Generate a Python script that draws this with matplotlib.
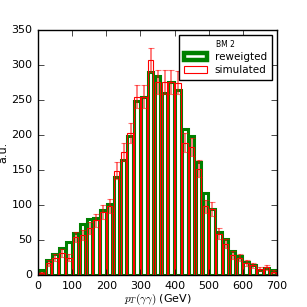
import numpy as np
import matplotlib
matplotlib.use("Agg")
import matplotlib.pyplot as plt

bin_edges = list(range(0, 720, 20))
reweighted = [7, 21, 30, 38, 47, 60, 73, 80, 82, 93, 102, 140, 165, 199, 248,
              255, 290, 284, 260, 276, 264, 208, 198, 162, 117, 94, 62, 52, 35,
              27, 18, 14, 7, 10, 7]
simulated = [3, 17, 25, 32, 25, 54, 57, 67, 78, 90, 99, 149, 176, 203, 255,
             255, 307, 276, 276, 276, 275, 189, 183, 152, 98, 94, 59, 45, 29,
             25, 17, 14, 8, 11, 5]

plt.style.use("classic")
plt.rcParams["font.size"] = 7

edges = np.array(bin_edges, dtype=float)
centers = 0.5 * (edges[:-1] + edges[1:])

fig = plt.figure(figsize=(3.07, 3.07), dpi=100)
ax = fig.add_axes([0.124, 0.104, 0.778, 0.798])

ax.hist(centers, bins=edges, weights=reweighted, histtype="bar", rwidth=0.8,
        fill=False, edgecolor="green", linewidth=2.2, label="reweigted")
ax.hist(centers, bins=edges, weights=simulated, histtype="bar", rwidth=0.8,
        fill=False, edgecolor="red", linewidth=0.8, label="simulated")
ax.errorbar(centers + 1, simulated, yerr=np.sqrt(simulated), fmt="none",
            ecolor="red", alpha=0.55, elinewidth=1.3, capsize=2, capthick=0.8)

ax.set_xlim(0, 700)
ax.set_ylim(0, 350)
ax.set_xticks(range(0, 701, 100))
ax.set_yticks(range(0, 351, 50))
ax.tick_params(labelsize=8)
ax.set_xlabel(r"$p_T(\gamma\gamma)$ (GeV)", labelpad=1, fontsize=8)
ax.set_ylabel("a.u.", labelpad=2, fontsize=8)
leg = ax.legend(loc="upper right", title="BM 2", fontsize=7.5, frameon=True,
                borderpad=0.45, labelspacing=0.3, handlelength=2.2)
leg.get_title().set_fontsize(5.5)
leg.legend_handles[0].set_linewidth(3.2)
fig.savefig("out.png", dpi=100)
